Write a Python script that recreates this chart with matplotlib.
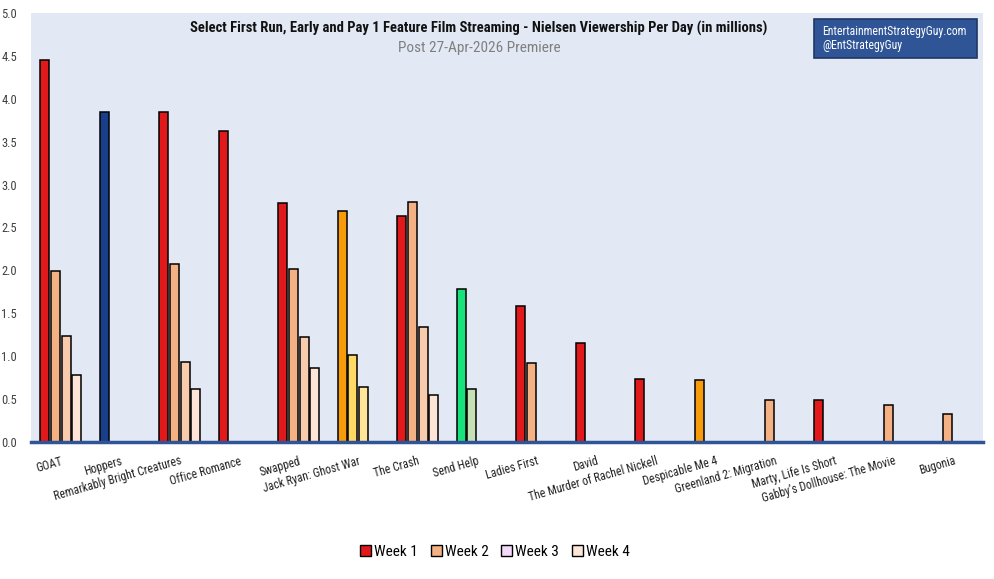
import numpy as np
import matplotlib
matplotlib.use('Agg')
import matplotlib.pyplot as plt
from matplotlib import font_manager as fm
from matplotlib.patches import Patch, Rectangle

nan = np.nan

movies = ["GOAT", "Hoppers", "Remarkably Bright Creatures", "Office Romance", "Swapped",
          "Jack Ryan: Ghost War", "The Crash", "Send Help", "Ladies First", "David",
          "The Murder of Rachel Nickell", "Despicable Me 4", "Greenland 2: Migration",
          "Marty, Life Is Short", "Gabby\u2019s Dollhouse: The Movie", "Bugonia"]
studio = ["red", "blue", "red", "red", "red", "orange", "red", "green", "red", "red",
          "red", "orange", "red", "red", "red", "red"]
week1 = [4.45, 3.85, 3.85, 3.62, 2.79, 2.69, 2.635, 1.78, 1.58, 1.15, 0.735, 0.72, nan, 0.49, nan, nan]
week2 = [1.99, nan, 2.07, nan, 2.02, 1.01, 2.80, 0.62, 0.92, nan, nan, nan, 0.49, nan, 0.43, 0.33]
week3 = [1.23, nan, 0.93, nan, 1.22, 0.645, 1.34, nan, nan, nan, nan, nan, nan, nan, nan, nan]
week4 = [0.78, nan, 0.62, nan, 0.86, nan, 0.55, nan, nan, nan, nan, nan, nan, nan, nan, nan]
weeks = ["Week 1", "Week 2", "Week 3", "Week 4"]

#shades per studio, week 1 -> week 4
shades = {
    "red": ["#E2191A", "#F4B183", "#F8CBAD", "#FDE4D6"],
    "blue": ["#1A3F8A", "#8FAADC", "#B4C7E7", "#DAE3F3"],
    "orange": ["#F89B0B", "#FFD966", "#FFE699", "#FFF2CC"],
    "green": ["#18E37B", "#C5E0B4", "#E2F0D9", "#F0F8EC"],
}
legend_colors = ["#E2191A", "#F4B183", "#F3DAFB", "#FDE6D8"]

#pick a narrow font if there is one
family = 'DejaVu Sans'
for f in ['Roboto Condensed', 'Liberation Sans Narrow', 'DejaVu Sans Condensed']:
    try:
        fm.findfont(fm.FontProperties(family=f), fallback_to_default=False)
        family = f
        break
    except Exception:
        pass
plt.rcParams['font.family'] = [family, 'DejaVu Sans']

fig = plt.figure(figsize=(9.95, 5.79), dpi=100)
ax = fig.add_axes([31/995, 1-442/579, 952/995, 429/579])
ax.set_facecolor('#E2E8F4')

x = np.arange(len(movies))
pitch = 0.18
width = 0.152
for k, vals in enumerate([week1, week2, week3, week4]):
    cols = [shades[s][k] for s in studio]
    ax.bar(x + (k-1.5)*pitch, vals, width, color=cols, edgecolor='black', linewidth=1.1, zorder=2)

ax.set_xlim(-0.5, len(movies)-0.5)
ax.set_ylim(0, 5.0)
ax.set_yticks(np.arange(0, 5.01, 0.5))
ax.set_yticklabels([f'{v:.1f}' for v in np.arange(0, 5.01, 0.5)])
ax.set_xticks(x)
ax.tick_params(axis='y', length=0, pad=10, labelsize=9, colors='#404040')
ax.tick_params(axis='x', length=0, pad=9, labelsize=8.5, colors='#222222')
ax.set_xticklabels(movies, rotation=16, ha='right', rotation_mode='anchor')
for s in ['top', 'right', 'left']:
    ax.spines[s].set_visible(False)
ax.spines['bottom'].set_color('#2F5597')
ax.spines['bottom'].set_linewidth(2.5)
ax.spines['bottom'].set_zorder(3)

fig.text(479/995, 1-28/579, 'Select First Run, Early and Pay 1 Feature Film Streaming - Nielsen Viewership Per Day (in millions)',
         ha='center', va='center', fontsize=10.5, fontweight='bold', color='#111111')
fig.text(479/995, 1-48/579, 'Post 27-Apr-2026 Premiere', ha='center', va='center', fontsize=11, color='#7F7F7F')

#watermark box
fig.patches.append(Rectangle((814/995, 1-58/579), 163/995, 39/579, transform=fig.transFigure,
                             facecolor='#2F5597', edgecolor='#1F3864', linewidth=1.2))
fig.text(822/995, 1-31/579, 'EntertainmentStrategyGuy.com', ha='left', va='center', fontsize=8.5, color='white')
fig.text(822/995, 1-46/579, '@EntStrategyGuy', ha='left', va='center', fontsize=8.5, color='white')

handles = [Patch(facecolor=c, edgecolor='black', linewidth=1.0) for c in legend_colors]
fig.legend(handles, weeks, loc='center', bbox_to_anchor=(495/995, 1-552/579), ncol=4, frameon=False,
           fontsize=11, handlelength=0.7, handleheight=0.7, handletextpad=0.2, columnspacing=0.85)

fig.savefig('out.png', dpi=100)
